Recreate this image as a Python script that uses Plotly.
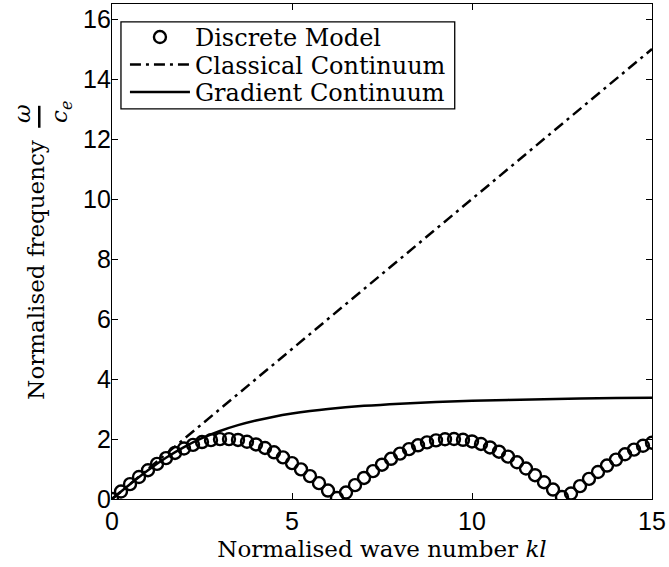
import plotly.graph_objects as go

# Discrete model
kl_discrete = [i * 0.25 for i in range(61)]
omega_discrete = [0.000, 0.249, 0.495, 0.733, 0.959, 1.170, 1.363, 1.535, 1.683, 1.805,
                  1.898, 1.962, 1.995, 1.997, 1.968, 1.908, 1.819, 1.701, 1.556, 1.388,
                  1.197, 0.986, 0.763, 0.528, 0.282, 0.033, 0.216, 0.462, 0.702, 0.929,
                  1.143, 1.340, 1.514, 1.662, 1.790, 1.887, 1.955, 1.992, 1.999, 1.973,
                  1.918, 1.834, 1.718, 1.577, 1.411, 1.224, 1.016, 0.794, 0.559, 0.315,
                  0.066, 0.183, 0.430, 0.671, 0.900, 1.115, 1.314, 1.491, 1.646, 1.775,
                  1.876]

# Classical continuum
kl_classical = [0, 15]
omega_classical = [0, 15]

# Gradient continuum
kl_gradient = [0, 0.5, 1, 1.5, 2, 2.5, 3, 3.5, 4, 4.5, 5, 5.5, 6, 7, 8, 9, 10, 11, 12, 13, 14, 15]
omega_gradient = [0, 0.495, 0.961, 1.376, 1.732, 2.027, 2.268, 2.462, 2.619, 2.745, 2.847,
                  2.931, 3.000, 3.105, 3.179, 3.233, 3.273, 3.304, 3.328, 3.347, 3.363, 3.375]

x_ticks = [0, 5, 10, 15]
y_ticks = [0, 2, 4, 6, 8, 10, 12, 14, 16]

SERIF = "DejaVu Serif"
SANS = "Liberation Sans"
FS_LEG = 24
FS_TITLE = 23

fig = go.Figure()
fig.add_trace(go.Scatter(
    x=kl_discrete, y=omega_discrete, mode="markers", name="Discrete Model", legend="legend",
    marker=dict(symbol="circle-open", size=12, color="black", line=dict(width=2.4, color="black")),
))
fig.add_trace(go.Scatter(
    x=kl_classical, y=omega_classical, mode="lines", name="Classical Continuum", legend="legend2",
    line=dict(color="black", width=2.5, dash="11px,5px,3px,5px"),
))
fig.add_trace(go.Scatter(
    x=kl_gradient, y=omega_gradient, mode="lines", name="Gradient Continuum", legend="legend3",
    line=dict(color="black", width=2.5, shape="spline"),
))

W, H = 669, 567
L, R, T, B = 112, 15, 3, 68
pw, ph = W - L - R, H - T - B

def px(x):
    return (x - L) / pw

def py(y):
    return (H - B - y) / ph

def leg(row_y):
    return dict(
        x=px(125), y=py(row_y), xanchor="left", yanchor="middle",
        borderwidth=0, bgcolor="rgba(0,0,0,0)",
        font=dict(family=SERIF, size=FS_LEG, color="black"),
        itemwidth=60,
    )

fig.update_layout(
    width=W, height=H,
    margin=dict(l=L, r=R, t=T, b=B),
    plot_bgcolor="white", paper_bgcolor="white",
    showlegend=True,
    legend=leg(36.5),
    legend2=leg(64),
    legend3=leg(91.5),
    xaxis=dict(
        range=[0, 15], tickvals=x_ticks, ticktext=[str(v) for v in x_ticks],
        ticks="inside", ticklen=6, tickwidth=1, tickcolor="black",
        showline=True, linecolor="black", linewidth=1.3, mirror="ticks",
        showgrid=False, zeroline=False,
        tickfont=dict(family=SANS, size=25, color="black"),
        title=dict(text="Normalised wave number <i>kl</i>",
                   font=dict(family=SERIF, size=FS_TITLE, color="black"), standoff=6),
    ),
    yaxis=dict(
        range=[0, 16.5], tickvals=y_ticks, ticktext=[str(v) for v in y_ticks],
        ticks="inside", ticklen=6, tickwidth=1, tickcolor="black",
        showline=True, linecolor="black", linewidth=1.3, mirror="ticks",
        showgrid=False, zeroline=False, ticklabelstandoff=-5,
        tickfont=dict(family=SANS, size=25, color="black"),
    ),
)

# Legend box
fig.add_shape(
    type="rect", xref="paper", yref="paper", layer="above",
    x0=px(121), x1=px(456), y0=py(108), y1=py(21),
    line=dict(color="black", width=1.3), fillcolor="white",
)

# Rotated y-axis title with stacked fraction
fig.add_annotation(
    text="Normalised frequency", textangle=-90, showarrow=False,
    xref="paper", yref="paper", x=px(36), y=py(269), xanchor="center", yanchor="middle",
    font=dict(family=SERIF, size=FS_TITLE, color="black"),
)
fig.add_annotation(
    text="<i>ω</i>", textangle=-90, showarrow=False,
    xref="paper", yref="paper", x=px(21), y=py(113), xanchor="center", yanchor="middle",
    font=dict(family=SERIF, size=FS_TITLE, color="black"),
)
fig.add_annotation(
    text="<i>c</i><sub><i>e</i></sub>", textangle=-90, showarrow=False,
    xref="paper", yref="paper", x=px(61), y=py(111), xanchor="center", yanchor="middle",
    font=dict(family=SERIF, size=FS_TITLE, color="black"),
)
fig.add_shape(
    type="line", xref="paper", yref="paper",
    x0=px(39), x1=px(39), y0=py(105), y1=py(127),
    line=dict(color="black", width=2.5),
)

fig.write_html("out.html")
